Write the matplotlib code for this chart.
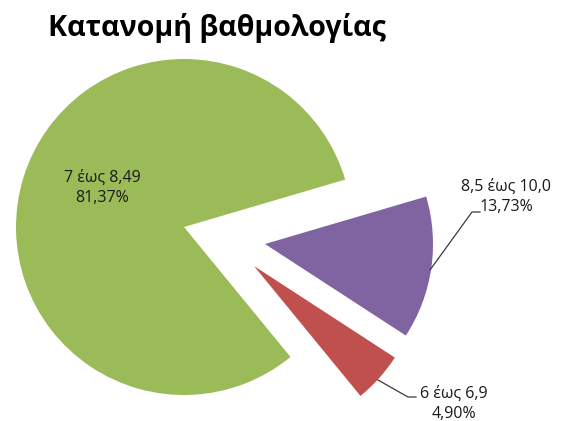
import matplotlib
matplotlib.use("Agg")
import matplotlib.pyplot as plt

# Data
categories = ["7 έως 8,49", "6 έως 6,9", "8,5 έως 10,0"]
values = [81.37, 4.90, 13.73]
pct_labels = ["81,37%", "4,90%", "13,73%"]
title = "Κατανομή βαθμολογίας"

# Styles
colors = ["#9BBB59", "#C0504D", "#8064A2"]
fam = ["Open Sans", "DejaVu Sans"]
W, H = 566, 421

fig = plt.figure(figsize=(W / 100, H / 100), dpi=100)
ax = fig.add_axes([0, 0, 1, 1])

center = (184, 194)
radius = 168
wedges, _ = ax.pie(values, startangle=16.4, counterclock=True, center=center,
                   radius=radius, colors=colors,
                   wedgeprops=dict(linewidth=0))
# explode offsets (pixels)
offsets = [(0, 0), (70, -39), (81, -17)]
for w, (dx, dy) in zip(wedges, offsets):
    cx, cy = w.center
    w.set_center((cx + dx, cy + dy))

ax.set_xlim(0, W)
ax.set_ylim(0, H)
ax.set_aspect("auto")
ax.axis("off")

txt_color = "#1a1a1a"
fs = 11.5
ls = 1.35
# green label (inside)
ax.text(102, 233.5, f"{categories[0]}\n{pct_labels[0]}", ha="center", va="center",
        fontsize=fs, family=fam, color=txt_color, linespacing=ls)
# purple label
ax.text(506, 224.5, f"{categories[2]}\n{pct_labels[2]}", ha="center", va="center",
        fontsize=fs, family=fam, color=txt_color, linespacing=ls)
# red label
ax.text(454, 17, f"{categories[1]}\n{pct_labels[1]}", ha="center", va="center",
        fontsize=fs, family=fam, color=txt_color, linespacing=ls)

# leader lines
ax.plot([430, 472, 480], [151, 209, 209], color="#3a3a3a", lw=0.9)
ax.plot([378, 408, 416], [41, 24, 24], color="#3a3a3a", lw=0.9)

ax.text(217, 393, title, ha="center", va="center", fontsize=20.6,
        fontweight="bold", family=fam, color="black")

fig.savefig("out.png", dpi=100)
